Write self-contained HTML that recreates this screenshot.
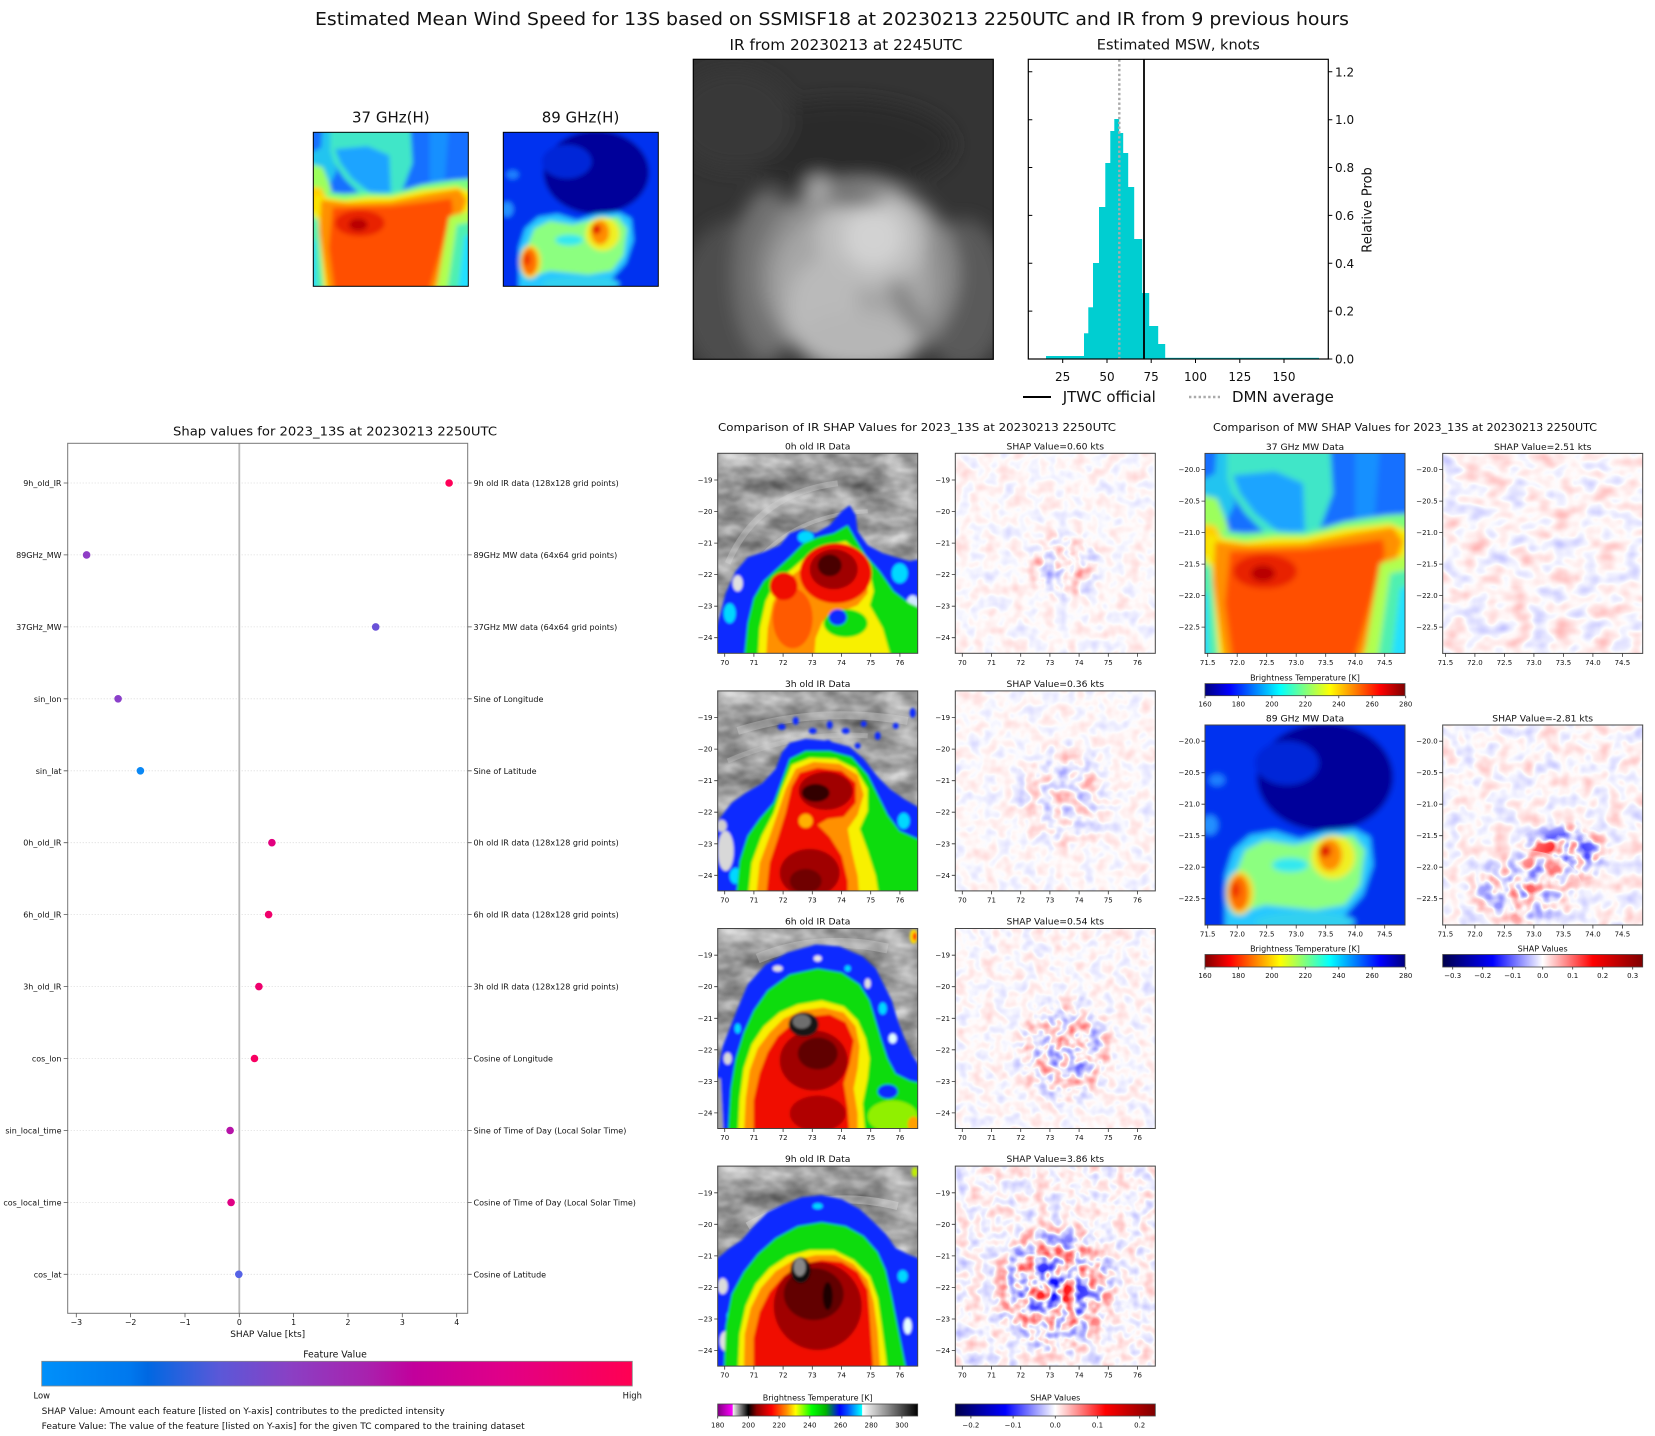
<!DOCTYPE html>
<html><head><meta charset="utf-8"><style>
html,body{margin:0;padding:0;background:#fff}
svg{display:block}
text{font-family:"DejaVu Sans","Liberation Sans",sans-serif;fill:#111}
</style></head><body>
<svg width="1655" height="1436" viewBox="0 0 1655 1436" xmlns="http://www.w3.org/2000/svg" xmlns:xlink="http://www.w3.org/1999/xlink">
<defs>
<filter id="b15" x="-10%" y="-10%" width="120%" height="120%"><feGaussianBlur stdDeviation="1.4"/></filter>
<filter id="b25" x="-10%" y="-10%" width="120%" height="120%"><feGaussianBlur stdDeviation="3"/></filter>
<filter id="b5" x="-10%" y="-10%" width="120%" height="120%"><feGaussianBlur stdDeviation="9"/></filter>
<filter id="gtex" filterUnits="userSpaceOnUse" x="-10" y="-10" width="220" height="220" color-interpolation-filters="sRGB">
<feTurbulence type="fractalNoise" baseFrequency="0.03 0.05" numOctaves="3" seed="5"/>
<feColorMatrix type="matrix" values="0.65 0 0 0 0.28 0.65 0 0 0 0.28 0.65 0 0 0 0.28 0 0 0 0 1"/>
</filter>
<!-- shap noise filters: weak / strong -->
<filter id="nwA" filterUnits="userSpaceOnUse" x="0" y="0" width="200" height="200" color-interpolation-filters="sRGB"><feTurbulence type="fractalNoise" baseFrequency="0.07" numOctaves="2" seed="3"/><feColorMatrix type="matrix" values="1 0 0 0 0 1 0 0 0 0 0 0 0 0 0 0 0 0 0 1"/><feComponentTransfer><feFuncR type="linear" slope="0.38" intercept="-0.17"/><feFuncG type="linear" slope="-0.38" intercept="0.19"/></feComponentTransfer><feColorMatrix type="matrix" values="0 -1 0 0 1 -1 -1 0 0 1 -1 0 0 0 1 0 0 0 0 1"/></filter>
<filter id="nsA" filterUnits="userSpaceOnUse" x="0" y="0" width="200" height="200" color-interpolation-filters="sRGB"><feTurbulence type="fractalNoise" baseFrequency="0.07" numOctaves="2" seed="3"/><feColorMatrix type="matrix" values="1 0 0 0 0 1 0 0 0 0 0 0 0 0 0 0 0 0 0 1"/><feComponentTransfer><feFuncR type="linear" slope="3" intercept="-1.5"/><feFuncG type="linear" slope="-3" intercept="1.5"/></feComponentTransfer><feColorMatrix type="matrix" values="0 -1 0 0 1 -1 -1 0 0 1 -1 0 0 0 1 0 0 0 0 1"/></filter>
<filter id="nwB" filterUnits="userSpaceOnUse" x="0" y="0" width="200" height="200" color-interpolation-filters="sRGB"><feTurbulence type="fractalNoise" baseFrequency="0.07" numOctaves="2" seed="8"/><feColorMatrix type="matrix" values="1 0 0 0 0 1 0 0 0 0 0 0 0 0 0 0 0 0 0 1"/><feComponentTransfer><feFuncR type="linear" slope="0.38" intercept="-0.17"/><feFuncG type="linear" slope="-0.38" intercept="0.19"/></feComponentTransfer><feColorMatrix type="matrix" values="0 -1 0 0 1 -1 -1 0 0 1 -1 0 0 0 1 0 0 0 0 1"/></filter>
<filter id="nsB" filterUnits="userSpaceOnUse" x="0" y="0" width="200" height="200" color-interpolation-filters="sRGB"><feTurbulence type="fractalNoise" baseFrequency="0.07" numOctaves="2" seed="8"/><feColorMatrix type="matrix" values="1 0 0 0 0 1 0 0 0 0 0 0 0 0 0 0 0 0 0 1"/><feComponentTransfer><feFuncR type="linear" slope="3" intercept="-1.5"/><feFuncG type="linear" slope="-3" intercept="1.5"/></feComponentTransfer><feColorMatrix type="matrix" values="0 -1 0 0 1 -1 -1 0 0 1 -1 0 0 0 1 0 0 0 0 1"/></filter>
<filter id="nwC" filterUnits="userSpaceOnUse" x="0" y="0" width="200" height="200" color-interpolation-filters="sRGB"><feTurbulence type="fractalNoise" baseFrequency="0.075" numOctaves="2" seed="21"/><feColorMatrix type="matrix" values="1 0 0 0 0 1 0 0 0 0 0 0 0 0 0 0 0 0 0 1"/><feComponentTransfer><feFuncR type="linear" slope="0.42" intercept="-0.19"/><feFuncG type="linear" slope="-0.42" intercept="0.21"/></feComponentTransfer><feColorMatrix type="matrix" values="0 -1 0 0 1 -1 -1 0 0 1 -1 0 0 0 1 0 0 0 0 1"/></filter>
<filter id="nsC" filterUnits="userSpaceOnUse" x="0" y="0" width="200" height="200" color-interpolation-filters="sRGB"><feTurbulence type="fractalNoise" baseFrequency="0.075" numOctaves="2" seed="21"/><feColorMatrix type="matrix" values="1 0 0 0 0 1 0 0 0 0 0 0 0 0 0 0 0 0 0 1"/><feComponentTransfer><feFuncR type="linear" slope="3.2" intercept="-1.6"/><feFuncG type="linear" slope="-3.2" intercept="1.6"/></feComponentTransfer><feColorMatrix type="matrix" values="0 -1 0 0 1 -1 -1 0 0 1 -1 0 0 0 1 0 0 0 0 1"/></filter>
<filter id="nwD" filterUnits="userSpaceOnUse" x="0" y="0" width="200" height="200" color-interpolation-filters="sRGB"><feTurbulence type="fractalNoise" baseFrequency="0.075" numOctaves="2" seed="33"/><feColorMatrix type="matrix" values="1 0 0 0 0 1 0 0 0 0 0 0 0 0 0 0 0 0 0 1"/><feComponentTransfer><feFuncR type="linear" slope="0.7" intercept="-0.33"/><feFuncG type="linear" slope="-0.7" intercept="0.35"/></feComponentTransfer><feColorMatrix type="matrix" values="0 -1 0 0 1 -1 -1 0 0 1 -1 0 0 0 1 0 0 0 0 1"/></filter>
<filter id="nsD" filterUnits="userSpaceOnUse" x="0" y="0" width="200" height="200" color-interpolation-filters="sRGB"><feTurbulence type="fractalNoise" baseFrequency="0.075" numOctaves="2" seed="33"/><feColorMatrix type="matrix" values="1 0 0 0 0 1 0 0 0 0 0 0 0 0 0 0 0 0 0 1"/><feComponentTransfer><feFuncR type="linear" slope="4" intercept="-2"/><feFuncG type="linear" slope="-4" intercept="2"/></feComponentTransfer><feColorMatrix type="matrix" values="0 -1 0 0 1 -1 -1 0 0 1 -1 0 0 0 1 0 0 0 0 1"/></filter>
<filter id="nwE" filterUnits="userSpaceOnUse" x="0" y="0" width="200" height="200" color-interpolation-filters="sRGB"><feTurbulence type="fractalNoise" baseFrequency="0.045 0.06" numOctaves="2" seed="41"/><feColorMatrix type="matrix" values="1 0 0 0 0 1 0 0 0 0 0 0 0 0 0 0 0 0 0 1"/><feComponentTransfer><feFuncR type="linear" slope="0.65" intercept="-0.3"/><feFuncG type="linear" slope="-0.65" intercept="0.32"/></feComponentTransfer><feColorMatrix type="matrix" values="0 -1 0 0 1 -1 -1 0 0 1 -1 0 0 0 1 0 0 0 0 1"/></filter>
<filter id="nwF" filterUnits="userSpaceOnUse" x="0" y="0" width="200" height="200" color-interpolation-filters="sRGB"><feTurbulence type="fractalNoise" baseFrequency="0.06" numOctaves="2" seed="52"/><feColorMatrix type="matrix" values="1 0 0 0 0 1 0 0 0 0 0 0 0 0 0 0 0 0 0 1"/><feComponentTransfer><feFuncR type="linear" slope="0.6" intercept="-0.28"/><feFuncG type="linear" slope="-0.6" intercept="0.3"/></feComponentTransfer><feColorMatrix type="matrix" values="0 -1 0 0 1 -1 -1 0 0 1 -1 0 0 0 1 0 0 0 0 1"/></filter>
<filter id="nsF" filterUnits="userSpaceOnUse" x="0" y="0" width="200" height="200" color-interpolation-filters="sRGB"><feTurbulence type="fractalNoise" baseFrequency="0.06" numOctaves="2" seed="52"/><feColorMatrix type="matrix" values="1 0 0 0 0 1 0 0 0 0 0 0 0 0 0 0 0 0 0 1"/><feComponentTransfer><feFuncR type="linear" slope="5" intercept="-2.5"/><feFuncG type="linear" slope="-5" intercept="2.5"/></feComponentTransfer><feColorMatrix type="matrix" values="0 -1 0 0 1 -1 -1 0 0 1 -1 0 0 0 1 0 0 0 0 1"/></filter>

<radialGradient id="rgc" cx="0.5" cy="0.5" r="0.5"><stop offset="0" stop-color="#fff"/><stop offset="0.6" stop-color="#888"/><stop offset="1" stop-color="#000"/></radialGradient>
<mask id="m0" maskUnits="userSpaceOnUse" x="0" y="0" width="200" height="200"><ellipse cx="108" cy="112" rx="42" ry="38" fill="url(#rgc)" opacity="0.55"/></mask>
<mask id="m3" maskUnits="userSpaceOnUse" x="0" y="0" width="200" height="200"><ellipse cx="110" cy="105" rx="58" ry="60" fill="url(#rgc)" opacity="0.35"/></mask>
<mask id="m6" maskUnits="userSpaceOnUse" x="0" y="0" width="200" height="200"><ellipse cx="110" cy="122" rx="55" ry="58" fill="url(#rgc)" opacity="0.75"/></mask>
<mask id="m9" maskUnits="userSpaceOnUse" x="0" y="0" width="200" height="200"><ellipse cx="100" cy="122" rx="68" ry="70" fill="url(#rgc)"/></mask>
<mask id="m89" maskUnits="userSpaceOnUse" x="0" y="0" width="200" height="200"><ellipse cx="122" cy="128" rx="50" ry="32" fill="url(#rgc)"/><ellipse cx="80" cy="165" rx="60" ry="40" fill="url(#rgc)" opacity="0.6"/></mask>

<linearGradient id="gJet" x1="0" y1="0" x2="1" y2="0"><stop offset="0" stop-color="#00007f"/><stop offset="0.125" stop-color="#0000ff"/><stop offset="0.375" stop-color="#00ffff"/><stop offset="0.5" stop-color="#7fff7f"/><stop offset="0.625" stop-color="#ffff00"/><stop offset="0.875" stop-color="#ff0000"/><stop offset="1" stop-color="#7f0000"/></linearGradient>
<linearGradient id="gJetR" x1="1" y1="0" x2="0" y2="0"><stop offset="0" stop-color="#00007f"/><stop offset="0.125" stop-color="#0000ff"/><stop offset="0.375" stop-color="#00ffff"/><stop offset="0.5" stop-color="#7fff7f"/><stop offset="0.625" stop-color="#ffff00"/><stop offset="0.875" stop-color="#ff0000"/><stop offset="1" stop-color="#7f0000"/></linearGradient>
<linearGradient id="gSeis" x1="0" y1="0" x2="1" y2="0"><stop offset="0" stop-color="#00004c"/><stop offset="0.25" stop-color="#0000ff"/><stop offset="0.5" stop-color="#ffffff"/><stop offset="0.75" stop-color="#ff0000"/><stop offset="1" stop-color="#7f0000"/></linearGradient>
<linearGradient id="gIR" x1="0" y1="0" x2="1" y2="0"><stop offset="0" stop-color="#800080"/><stop offset="0.074" stop-color="#ff00ff"/><stop offset="0.076" stop-color="#f2f2f2"/><stop offset="0.153" stop-color="#000000"/><stop offset="0.195" stop-color="#8b0000"/><stop offset="0.27" stop-color="#ff0000"/><stop offset="0.345" stop-color="#ff9000"/><stop offset="0.39" stop-color="#ffff00"/><stop offset="0.47" stop-color="#00ff00"/><stop offset="0.54" stop-color="#00b400"/><stop offset="0.61" stop-color="#0000ff"/><stop offset="0.65" stop-color="#0050ff"/><stop offset="0.72" stop-color="#00ffff"/><stop offset="0.724" stop-color="#ffffff"/><stop offset="1" stop-color="#000000"/></linearGradient>
<linearGradient id="gFeat" x1="0" y1="0" x2="1" y2="0"><stop offset="0" stop-color="#0090fa"/><stop offset="0.15" stop-color="#0078ee"/><stop offset="0.18" stop-color="#0068e2"/><stop offset="0.3" stop-color="#5a58d8"/><stop offset="0.42" stop-color="#8a40c4"/><stop offset="0.55" stop-color="#a822ae"/><stop offset="0.63" stop-color="#c2009c"/><stop offset="0.78" stop-color="#e00088"/><stop offset="1" stop-color="#ff0052"/></linearGradient>

<path id="irt" d="M-3.5 26.7H0M-3.5 58.2H0M-3.5 89.8H0M-3.5 121.3H0M-3.5 152.9H0M-3.5 184.4H0M7 200V203.5M36.2 200V203.5M65.4 200V203.5M94.6 200V203.5M123.8 200V203.5M153 200V203.5M182.2 200V203.5" stroke="#333" stroke-width="0.8" fill="none"/>
<path id="mwt" d="M-3.5 16.2H0M-3.5 47.7H0M-3.5 79.2H0M-3.5 110.7H0M-3.5 142.2H0M-3.5 173.7H0M2.7 200V203.5M32.2 200V203.5M61.7 200V203.5M91.2 200V203.5M120.7 200V203.5M150.2 200V203.5M179.7 200V203.5" stroke="#333" stroke-width="0.8" fill="none"/>

<g id="mw37" filter="url(#b25)">
<rect x="-10" y="-10" width="220" height="220" fill="#1870ff"/>
<polygon points="20,-10 125,-10 128,40 115,75 100,82 62,82 40,60 20,30" fill="#3fe6c8"/>
<polygon points="28,22 70,18 98,30 100,78 75,80 50,60 35,40" fill="#1ea4ff"/>
<polygon points="-10,-10 22,-10 22,25 30,50 20,70 5,60 -10,40" fill="#22c4f0"/>
<polygon points="-10,-10 12,-10 10,20 -10,30" fill="#1870ff"/>
<polygon points="150,-10 175,-10 170,60 160,78 150,70" fill="#1490ff"/>
<polygon points="-10,40 12,45 22,70 28,95 -10,100" fill="#9cff5c"/>
<polygon points="-10,75 40,80 70,78 100,80 140,68 180,62 210,60 210,210 -10,210" fill="#7cff7c"/>
<polygon points="-10,70 10,72 22,92 -10,110" fill="#ffd000"/>
<polygon points="2,82 40,88 70,84 100,84 140,75 185,70 205,78 200,110 165,210 12,210 0,130" fill="#f8e800"/>
<polygon points="10,88 45,92 100,90 150,80 188,74 198,88 190,110 155,210 20,210 8,130" fill="#ff9000"/>
<polygon points="25,98 60,97 100,96 150,90 178,86 180,100 148,210 28,210 20,150" fill="#ff5000"/>
<ellipse cx="60" cy="118" rx="32" ry="17" fill="#e82000"/>
<ellipse cx="58" cy="120" rx="12" ry="8" fill="#b80000"/>
<polygon points="-10,110 6,112 14,210 -10,210" fill="#50f0b0"/>
<polygon points="-10,140 2,140 4,210 -10,210" fill="#20d8ff"/>
<polygon points="175,110 210,100 210,210 158,210" fill="#b0ff50"/>
<polygon points="185,120 210,115 210,210 172,210" fill="#50f0b0"/>
<polygon points="195,135 210,130 210,210 186,210" fill="#20e0ff"/>
</g>

<g id="mw89" filter="url(#b25)">
<rect x="-10" y="-10" width="220" height="220" fill="#0030f0"/>
<ellipse cx="120" cy="52" rx="68" ry="54" fill="#00009a"/>
<ellipse cx="82" cy="38" rx="32" ry="22" fill="#0026d8"/>
<ellipse cx="5" cy="100" rx="8" ry="10" fill="#2090ff"/>
<ellipse cx="12" cy="55" rx="8" ry="6" fill="#1c80ff"/>
<polygon points="20,210 20,150 28,125 45,110 70,106 95,114 120,106 150,104 165,112 168,140 158,170 140,190 120,210" fill="#28c8ff"/>
<polygon points="28,190 30,150 40,125 60,115 90,120 120,112 148,110 160,125 155,160 140,180 110,185 60,180" fill="#8cff80"/>
<ellipse cx="85" cy="140" rx="18" ry="7" fill="#30e8f0"/>
<ellipse cx="128" cy="132" rx="22" ry="22" fill="#f0f020"/>
<ellipse cx="35" cy="168" rx="14" ry="22" fill="#f0e020"/>
<ellipse cx="125" cy="130" rx="12" ry="16" fill="#ff8c00"/>
<ellipse cx="34" cy="168" rx="10" ry="18" fill="#ff7000"/>
<circle cx="120" cy="126" r="6" fill="#e00000"/>
<ellipse cx="30" cy="165" rx="5" ry="8" fill="#f03000"/>
<ellipse cx="100" cy="197" rx="50" ry="10" fill="#30d0f0"/>
</g>
</defs>

<rect width="1655" height="1436" fill="#fff"/>

<!-- ===== TOP ===== -->
<text x="832" y="25" font-size="18" text-anchor="middle" textLength="1034" lengthAdjust="spacingAndGlyphs">Estimated Mean Wind Speed for 13S based on SSMISF18 at 20230213 2250UTC and IR from 9 previous hours</text>

<text x="390.8" y="122.5" font-size="15" text-anchor="middle">37 GHz(H)</text>
<text x="580.5" y="122.5" font-size="15" text-anchor="middle">89 GHz(H)</text>
<svg x="313.3" y="132.3" width="155" height="154" viewBox="0 0 200 200" preserveAspectRatio="none"><use href="#mw37" xlink:href="#mw37"/></svg>
<rect x="313.3" y="132.3" width="155" height="154" fill="none" stroke="#000" stroke-width="1"/>
<svg x="503.3" y="132.3" width="155" height="154" viewBox="0 0 200 200" preserveAspectRatio="none"><use href="#mw89" xlink:href="#mw89"/></svg>
<rect x="503.3" y="132.3" width="155" height="154" fill="none" stroke="#000" stroke-width="1"/>

<text x="846" y="50" font-size="15" text-anchor="middle" textLength="233" lengthAdjust="spacingAndGlyphs">IR from 20230213 at 2245UTC</text>
<svg x="693.3" y="59.3" width="300" height="300" viewBox="0 0 300 300">
<rect x="-10" y="-10" width="320" height="320" fill="#343434"/>
<g filter="url(#b5)">
<ellipse cx="150" cy="85" rx="110" ry="45" fill="#2b2b2b"/>
<ellipse cx="40" cy="60" rx="60" ry="50" fill="#383838"/>
<ellipse cx="45" cy="240" rx="60" ry="80" fill="#4e4e4e"/>
<ellipse cx="270" cy="235" rx="45" ry="75" fill="#5a5a5a"/>
<ellipse cx="75" cy="215" rx="35" ry="85" fill="#707070"/>
<ellipse cx="165" cy="215" rx="100" ry="95" fill="#8c8c8c"/>
<ellipse cx="160" cy="225" rx="80" ry="80" fill="#a6a6a6"/>
<ellipse cx="178" cy="180" rx="55" ry="48" fill="#bebebe"/>
<ellipse cx="130" cy="250" rx="35" ry="50" fill="#bababa"/>
<ellipse cx="165" cy="282" rx="60" ry="30" fill="#b6b6b6"/>
<ellipse cx="180" cy="178" rx="30" ry="30" fill="#d2d2d2"/>
<ellipse cx="125" cy="130" rx="12" ry="13" fill="#b0b0b0"/>
<ellipse cx="160" cy="140" rx="32" ry="6" fill="#4e4e4e"/>
<ellipse cx="215" cy="250" rx="8" ry="35" fill="#7c7c7c" transform="rotate(-30 215 250)"/>
</g>
</svg>
<rect x="693.3" y="59.3" width="300" height="300" fill="none" stroke="#000" stroke-width="1.2"/>

<!-- histogram -->
<text x="1178.3" y="49.5" font-size="14" text-anchor="middle" textLength="163" lengthAdjust="spacingAndGlyphs">Estimated MSW, knots</text>
<g fill="#00ced1">
<rect x="1046" y="356" width="38" height="3"/>
<rect x="1084" y="333.3" width="4.5" height="25.7"/>
<rect x="1088.3" y="307.3" width="4.9" height="51.7"/>
<rect x="1093" y="263" width="6.2" height="96"/>
<rect x="1099" y="207" width="6.5" height="152"/>
<rect x="1105.3" y="163" width="5.2" height="196"/>
<rect x="1110.3" y="131" width="4.2" height="228"/>
<rect x="1114.3" y="119" width="4.9" height="240"/>
<rect x="1119" y="133" width="4.2" height="226"/>
<rect x="1123" y="153" width="5.2" height="206"/>
<rect x="1128" y="187" width="6.2" height="172"/>
<rect x="1134" y="239" width="8.2" height="120"/>
<rect x="1142" y="293" width="7.2" height="66"/>
<rect x="1149" y="326" width="9.2" height="33"/>
<rect x="1158" y="344" width="7.2" height="15"/>
<rect x="1165" y="357.8" width="154" height="1.2"/>
</g>
<line x1="1119.3" y1="59.3" x2="1119.3" y2="359" stroke="#aaa" stroke-width="2.4" stroke-dasharray="2.4 2.4"/>
<line x1="1144" y1="59.3" x2="1144" y2="359" stroke="#000" stroke-width="1.8"/>
<rect x="1028.3" y="59.3" width="300" height="299.7" fill="none" stroke="#000" stroke-width="1.2"/>
<path d="M1062.7 359v4M1107 359v4M1151.2 359v4M1195.5 359v4M1239.8 359v4M1284 359v4M1328.3 359h4M1328.3 311.1h4M1328.3 263.3h4M1328.3 215.4h4M1328.3 167.5h4M1328.3 119.7h4M1328.3 71.8h4M1028.3 311.1h4M1028.3 263.3h4M1028.3 215.4h4M1028.3 167.5h4M1028.3 119.7h4M1028.3 71.8h4" stroke="#000" stroke-width="1"/>
<g font-size="12" text-anchor="middle">
<text x="1062.7" y="381">25</text><text x="1107" y="381">50</text><text x="1151.2" y="381">75</text><text x="1195.5" y="381">100</text><text x="1239.8" y="381">125</text><text x="1284" y="381">150</text>
</g>
<g font-size="12">
<text x="1335" y="363.5">0.0</text><text x="1335" y="315.6">0.2</text><text x="1335" y="267.8">0.4</text><text x="1335" y="219.9">0.6</text><text x="1335" y="172">0.8</text><text x="1335" y="124.2">1.0</text><text x="1335" y="76.3">1.2</text>
</g>
<text transform="translate(1371.5 210) rotate(-90)" font-size="13" text-anchor="middle">Relative Prob</text>
<line x1="1023" y1="397" x2="1051" y2="397" stroke="#000" stroke-width="2"/>
<text x="1062.7" y="402" font-size="15">JTWC official</text>
<line x1="1189" y1="397" x2="1220" y2="397" stroke="#aaa" stroke-width="2.4" stroke-dasharray="2.4 2.4"/>
<text x="1232" y="402" font-size="15">DMN average</text>

<!-- ===== LEFT SHAP SUMMARY ===== -->
<text x="335" y="435.5" font-size="12.5" text-anchor="middle" textLength="324" lengthAdjust="spacingAndGlyphs">Shap values for 2023_13S at 20230213 2250UTC</text>
<g stroke="#d4d4d4" stroke-width="0.8" stroke-dasharray="1 2">
<line x1="67.7" y1="483" x2="467.7" y2="483"/><line x1="67.7" y1="554.9" x2="467.7" y2="554.9"/><line x1="67.7" y1="626.9" x2="467.7" y2="626.9"/><line x1="67.7" y1="698.8" x2="467.7" y2="698.8"/><line x1="67.7" y1="770.8" x2="467.7" y2="770.8"/><line x1="67.7" y1="842.7" x2="467.7" y2="842.7"/><line x1="67.7" y1="914.6" x2="467.7" y2="914.6"/><line x1="67.7" y1="986.6" x2="467.7" y2="986.6"/><line x1="67.7" y1="1058.5" x2="467.7" y2="1058.5"/><line x1="67.7" y1="1130.5" x2="467.7" y2="1130.5"/><line x1="67.7" y1="1202.4" x2="467.7" y2="1202.4"/><line x1="67.7" y1="1274.3" x2="467.7" y2="1274.3"/>
</g>
<line x1="239.3" y1="443.3" x2="239.3" y2="1313.3" stroke="#b8b8b8" stroke-width="1.8"/>
<rect x="67.7" y="443.3" width="400" height="870" fill="none" stroke="#777" stroke-width="1"/>
<path d="M63.7 483h4M63.7 554.9h4M63.7 626.9h4M63.7 698.8h4M63.7 770.8h4M63.7 842.7h4M63.7 914.6h4M63.7 986.6h4M63.7 1058.5h4M63.7 1130.5h4M63.7 1202.4h4M63.7 1274.3h4M467.7 483h4M467.7 554.9h4M467.7 626.9h4M467.7 698.8h4M467.7 770.8h4M467.7 842.7h4M467.7 914.6h4M467.7 986.6h4M467.7 1058.5h4M467.7 1130.5h4M467.7 1202.4h4M467.7 1274.3h4M76.3 1313.3v4M130.6 1313.3v4M185 1313.3v4M239.3 1313.3v4M293.6 1313.3v4M348 1313.3v4M402.3 1313.3v4M456.7 1313.3v4" stroke="#555" stroke-width="0.8"/>
<g font-size="8" text-anchor="end" fill="#222">
<text x="61.5" y="486">9h_old_IR</text><text x="61.5" y="557.9">89GHz_MW</text><text x="61.5" y="629.9">37GHz_MW</text><text x="61.5" y="701.8">sin_lon</text><text x="61.5" y="773.8">sin_lat</text><text x="61.5" y="845.7">0h_old_IR</text><text x="61.5" y="917.6">6h_old_IR</text><text x="61.5" y="989.6">3h_old_IR</text><text x="61.5" y="1061.5">cos_lon</text><text x="61.5" y="1133.5">sin_local_time</text><text x="61.5" y="1205.4">cos_local_time</text><text x="61.5" y="1277.3">cos_lat</text>
</g>
<g font-size="8" fill="#222">
<text x="473.5" y="486">9h old IR data (128x128 grid points)</text><text x="473.5" y="557.9">89GHz MW data (64x64 grid points)</text><text x="473.5" y="629.9">37GHz MW data (64x64 grid points)</text><text x="473.5" y="701.8">Sine of Longitude</text><text x="473.5" y="773.8">Sine of Latitude</text><text x="473.5" y="845.7">0h old IR data (128x128 grid points)</text><text x="473.5" y="917.6">6h old IR data (128x128 grid points)</text><text x="473.5" y="989.6">3h old IR data (128x128 grid points)</text><text x="473.5" y="1061.5">Cosine of Longitude</text><text x="473.5" y="1133.5">Sine of Time of Day (Local Solar Time)</text><text x="473.5" y="1205.4">Cosine of Time of Day (Local Solar Time)</text><text x="473.5" y="1277.3">Cosine of Latitude</text>
</g>
<circle cx="449.1" cy="483" r="3.8" fill="#ff0058"/>
<circle cx="86.6" cy="554.9" r="3.8" fill="#8f3dc6"/>
<circle cx="375.7" cy="626.9" r="3.8" fill="#6a52d8"/>
<circle cx="118.1" cy="698.8" r="3.8" fill="#8a3fca"/>
<circle cx="140.4" cy="770.8" r="3.8" fill="#0a88f5"/>
<circle cx="271.9" cy="842.7" r="3.8" fill="#e2007f"/>
<circle cx="268.6" cy="914.6" r="3.8" fill="#f0006b"/>
<circle cx="258.9" cy="986.6" r="3.8" fill="#ee006d"/>
<circle cx="254.5" cy="1058.5" r="3.8" fill="#f80062"/>
<circle cx="230.1" cy="1130.5" r="3.8" fill="#b612a8"/>
<circle cx="231.1" cy="1202.4" r="3.8" fill="#e00084"/>
<circle cx="238.8" cy="1274.3" r="3.8" fill="#5562e6"/>
<g font-size="7.8" text-anchor="middle" fill="#222">
<text x="76.3" y="1325">−3</text><text x="130.6" y="1325">−2</text><text x="185" y="1325">−1</text><text x="239.3" y="1325">0</text><text x="293.6" y="1325">1</text><text x="348" y="1325">2</text><text x="402.3" y="1325">3</text><text x="456.7" y="1325">4</text>
</g>
<text x="267.7" y="1337" font-size="9" text-anchor="middle">SHAP Value [kts]</text>
<text x="335" y="1357.5" font-size="9.3" text-anchor="middle">Feature Value</text>
<rect x="41.7" y="1361.3" width="590.6" height="24.7" fill="url(#gFeat)" stroke="#888" stroke-width="0.8"/>
<text x="41.7" y="1398.5" font-size="8.4" text-anchor="middle">Low</text>
<text x="632.3" y="1398.5" font-size="8.4" text-anchor="middle">High</text>
<text x="41.7" y="1414" font-size="8.5" textLength="403" lengthAdjust="spacingAndGlyphs">SHAP Value: Amount each feature [listed on Y-axis] contributes to the predicted intensity</text>
<text x="41.7" y="1429" font-size="8.5" textLength="483" lengthAdjust="spacingAndGlyphs">Feature Value: The value of the feature [listed on Y-axis] for the given TC compared to the training dataset</text>

<!-- ===== IR COMPARISON ===== -->
<text x="917" y="431" font-size="11" text-anchor="middle" textLength="398" lengthAdjust="spacingAndGlyphs">Comparison of IR SHAP Values for 2023_13S at 20230213 2250UTC</text>

<!-- 0h -->
<text x="817.7" y="449.3" font-size="9.2" text-anchor="middle">0h old IR Data</text>
<text x="1055.3" y="449.3" font-size="9.2" text-anchor="middle">SHAP Value=0.60 kts</text>
<svg x="717.7" y="453.3" width="200" height="200" viewBox="0 0 200 200">
<rect x="-10" y="-10" width="220" height="220" filter="url(#gtex)"/>
<path d="M10,110 Q40,40 120,30" stroke="#d6d6d6" stroke-width="6" fill="none" opacity="0.35"/>
<path d="M30,120 Q70,62 150,58" stroke="#dcdcdc" stroke-width="4" fill="none" opacity="0.35"/>
<g filter="url(#b15)">
<polygon points="-10,190 0,170 8,140 18,118 30,104 48,98 62,92 72,80 84,76 98,80 112,72 124,58 132,52 138,62 140,78 150,92 165,100 178,104 192,108 210,104 210,210 -10,210" fill="#0a2cff"/>
<ellipse cx="12" cy="160" rx="6" ry="10" fill="#00d8ff"/><ellipse cx="20" cy="130" rx="5" ry="8" fill="#e0e0e0"/><ellipse cx="182" cy="120" rx="8" ry="10" fill="#00d8ff"/><ellipse cx="195" cy="150" rx="6" ry="8" fill="#d0e8ff"/><ellipse cx="88" cy="84" rx="8" ry="6" fill="#00d8ff"/>
<polygon points="26,210 30,170 36,145 46,128 60,115 72,104 86,90 100,84 116,80 130,72 138,86 148,102 162,118 176,138 192,150 210,158 210,210" fill="#10dc10"/>
<polygon points="40,210 42,175 48,148 58,128 74,116 90,102 108,92 128,88 142,100 152,118 156,138 152,152 165,175 175,210" fill="#f8f000"/>
<polygon points="48,210 50,175 55,150 64,130 80,118 96,104 110,95 130,92 144,104 150,122 150,140 140,152 120,160 105,168 98,185 96,210" fill="#ff9000"/>
<ellipse cx="128" cy="170" rx="22" ry="14" fill="#10dc10"/><ellipse cx="120" cy="164" rx="9" ry="8" fill="#0a2cff"/>
<ellipse cx="75" cy="165" rx="20" ry="30" fill="#ff5a00"/>
<ellipse cx="118" cy="120" rx="36" ry="30" fill="#f01000"/>
<ellipse cx="66" cy="133" rx="14" ry="14" fill="#f01000"/>
<ellipse cx="116" cy="116" rx="24" ry="20" fill="#a00000"/>
<ellipse cx="112" cy="112" rx="12" ry="11" fill="#4a0000"/>
</g>
</svg>
<svg x="955.3" y="453.3" width="200" height="200" viewBox="0 0 200 200">
<rect width="200" height="200" filter="url(#nwA)"/>
<rect width="200" height="200" filter="url(#nsA)" mask="url(#m0)"/>
</svg>

<!-- 3h -->
<text x="817.7" y="686.9" font-size="9.2" text-anchor="middle">3h old IR Data</text>
<text x="1055.3" y="686.9" font-size="9.2" text-anchor="middle">SHAP Value=0.36 kts</text>
<svg x="717.7" y="690.9" width="200" height="200" viewBox="0 0 200 200">
<rect x="-10" y="-10" width="220" height="220" filter="url(#gtex)"/>
<path d="M20,40 Q100,15 190,30" stroke="#dcdcdc" stroke-width="8" fill="none" opacity="0.35"/>
<path d="M10,70 Q80,40 150,45" stroke="#cccccc" stroke-width="5" fill="none" opacity="0.35"/>
<g filter="url(#b15)">
<g fill="#0a2cff"><ellipse cx="64" cy="36" rx="4" ry="3"/><ellipse cx="78" cy="30" rx="3" ry="4"/><ellipse cx="95" cy="40" rx="4" ry="3"/><ellipse cx="112" cy="34" rx="3" ry="4"/><ellipse cx="128" cy="40" rx="4" ry="3"/><ellipse cx="146" cy="33" rx="3" ry="3"/><ellipse cx="160" cy="45" rx="3" ry="4"/><ellipse cx="178" cy="35" rx="3" ry="3"/><ellipse cx="195" cy="22" rx="3" ry="5"/><ellipse cx="110" cy="52" rx="4" ry="3"/><ellipse cx="140" cy="55" rx="3" ry="3"/></g>
<polygon points="-10,140 0,130 14,112 28,102 45,92 58,78 64,62 72,52 88,48 110,50 132,56 146,68 160,86 172,98 186,108 200,116 210,118 210,210 -10,210" fill="#0a2cff"/>
<ellipse cx="8" cy="160" rx="8" ry="20" fill="#d8d8d8"/><ellipse cx="18" cy="185" rx="6" ry="8" fill="#00d8ff"/><ellipse cx="4" cy="135" rx="5" ry="6" fill="#cfcfcf"/><ellipse cx="186" cy="130" rx="6" ry="8" fill="#00d8ff"/><ellipse cx="195" cy="170" rx="5" ry="10" fill="#c8ffff"/>
<polygon points="18,210 22,170 30,145 42,128 56,112 64,90 72,68 88,60 112,60 134,66 150,84 160,104 170,124 182,140 200,148 210,150 210,210" fill="#10dc10"/>
<polygon points="30,210 34,172 44,145 56,122 64,98 74,74 92,67 118,68 138,78 150,98 150,120 142,138 150,160 158,185 162,210" fill="#f8f000"/>
<polygon points="38,210 42,172 52,145 60,122 68,98 78,78 96,71 122,73 140,84 146,104 140,124 130,138 134,160 140,185 142,210" fill="#ff9000"/>
<polygon points="48,210 52,172 60,148 68,122 74,96 82,82 100,77 124,80 138,92 138,112 126,126 110,128 100,134 112,146 124,165 130,190 130,210" fill="#f01000"/>
<ellipse cx="88" cy="130" rx="7" ry="7" fill="#ffb000"/>
<ellipse cx="108" cy="100" rx="27" ry="19" fill="#a00000"/>
<ellipse cx="98" cy="102" rx="14" ry="9" fill="#300000"/>
<ellipse cx="92" cy="182" rx="30" ry="24" fill="#a00000"/>
<ellipse cx="88" cy="190" rx="16" ry="12" fill="#700000"/>
</g>
</svg>
<svg x="955.3" y="690.9" width="200" height="200" viewBox="0 0 200 200">
<rect width="200" height="200" filter="url(#nwB)"/>
<rect width="200" height="200" filter="url(#nsB)" mask="url(#m3)"/>
</svg>

<!-- 6h -->
<text x="817.7" y="924.5" font-size="9.2" text-anchor="middle">6h old IR Data</text>
<text x="1055.3" y="924.5" font-size="9.2" text-anchor="middle">SHAP Value=0.54 kts</text>
<svg x="717.7" y="928.5" width="200" height="200" viewBox="0 0 200 200">
<rect x="-10" y="-10" width="220" height="220" filter="url(#gtex)"/>
<path d="M40,30 Q100,5 170,20" stroke="#dedede" stroke-width="10" fill="none" opacity="0.35"/>
<g filter="url(#b15)">
<ellipse cx="196" cy="8" rx="4" ry="7" fill="#ffe000"/><ellipse cx="197" cy="8" rx="2" ry="4" fill="#ff2000"/>
<polygon points="-10,150 0,142 5,118 12,100 20,80 30,56 48,36 70,24 98,16 122,18 145,28 158,40 166,56 174,72 180,92 186,108 194,126 202,138 210,142 210,210 -10,210" fill="#0a2cff"/>
<polygon points="-10,150 3,150 6,210 -10,210" fill="#a0a0a0"/>
<ellipse cx="60" cy="40" rx="5" ry="3" fill="#e0e0e0"/><ellipse cx="100" cy="30" rx="4" ry="3" fill="#e8e8e8"/><ellipse cx="130" cy="40" rx="3" ry="3" fill="#00d8ff"/><ellipse cx="150" cy="55" rx="3" ry="5" fill="#e0e0e0"/><ellipse cx="165" cy="80" rx="4" ry="6" fill="#00d8ff"/><ellipse cx="175" cy="110" rx="4" ry="5" fill="#e0ffff"/><ellipse cx="20" cy="100" rx="3" ry="5" fill="#00d8ff"/><ellipse cx="10" cy="130" rx="4" ry="6" fill="#d8d8d8"/>
<polygon points="10,210 13,160 18,130 26,104 36,82 50,62 72,46 100,40 124,44 142,56 152,72 158,92 164,112 170,130 178,145 192,152 210,156 210,210" fill="#10dc10"/>
<ellipse cx="170" cy="163" rx="10" ry="7" fill="#0a2cff"/>
<ellipse cx="175" cy="188" rx="25" ry="16" fill="#90f000"/>
<polygon points="20,210 22,170 26,140 34,116 46,98 62,84 80,76 104,72 126,78 140,92 148,110 152,130 150,150 145,175 148,210" fill="#f8f000"/>
<polygon points="26,210 28,170 32,142 40,120 52,104 66,90 84,82 106,79 126,84 138,98 142,118 140,140 136,160 140,185 140,210" fill="#ff9000"/>
<polygon points="36,210 36,172 42,145 50,124 60,108 74,96 92,88 112,86 128,94 136,112 132,135 126,155 130,180 132,210" fill="#f01000"/>
<ellipse cx="196" cy="196" rx="6" ry="8" fill="#ffa000"/>
<ellipse cx="96" cy="132" rx="34" ry="30" fill="#a00000"/>
<ellipse cx="100" cy="185" rx="28" ry="18" fill="#b00000"/>
<ellipse cx="100" cy="125" rx="20" ry="16" fill="#600000"/>
<ellipse cx="86" cy="96" rx="15" ry="12" fill="#141414"/>
<ellipse cx="84" cy="93" rx="9" ry="7" fill="#6e6e6e"/>
</g>
</svg>
<svg x="955.3" y="928.5" width="200" height="200" viewBox="0 0 200 200">
<rect width="200" height="200" filter="url(#nwC)"/>
<rect width="200" height="200" filter="url(#nsC)" mask="url(#m6)"/>
</svg>

<!-- 9h -->
<text x="817.7" y="1162.1" font-size="9.2" text-anchor="middle">9h old IR Data</text>
<text x="1055.3" y="1162.1" font-size="9.2" text-anchor="middle">SHAP Value=3.86 kts</text>
<svg x="717.7" y="1166.1" width="200" height="200" viewBox="0 0 200 200">
<rect x="-10" y="-10" width="220" height="220" filter="url(#gtex)"/>
<path d="M30,60 Q100,20 180,40" stroke="#e4e4e4" stroke-width="8" fill="none" opacity="0.4"/>
<g filter="url(#b15)">
<ellipse cx="197" cy="6" rx="3" ry="5" fill="#c0f000"/>
<polygon points="-10,95 0,92 12,82 24,74 36,60 50,46 66,38 84,31 104,29 124,33 142,43 156,56 168,68 178,82 190,88 200,92 210,94 210,210 -10,210" fill="#0a2cff"/>
<ellipse cx="5" cy="120" rx="5" ry="8" fill="#dcdcdc"/><ellipse cx="15" cy="150" rx="6" ry="6" fill="#00d8ff"/><ellipse cx="8" cy="175" rx="6" ry="10" fill="#e0e0e0"/><ellipse cx="20" cy="195" rx="5" ry="5" fill="#00d8ff"/><ellipse cx="185" cy="110" rx="5" ry="6" fill="#00d8ff"/><ellipse cx="190" cy="160" rx="4" ry="8" fill="#e8ffff"/><ellipse cx="100" cy="40" rx="5" ry="3" fill="#00d8ff"/>
<polygon points="6,210 8,160 14,128 26,106 40,88 58,72 80,60 104,56 128,60 146,70 160,86 168,104 174,130 180,160 186,190 190,210" fill="#10dc10"/>
<polygon points="20,210 22,168 28,140 38,118 52,102 70,90 92,84 116,84 136,94 152,110 160,132 164,160 168,190 170,210" fill="#f8f000"/>
<polygon points="26,210 27,168 33,142 43,122 58,105 76,94 98,89 118,89 136,98 150,114 156,136 160,165 163,210" fill="#ff9000"/>
<polygon points="36,210 36,172 42,146 52,126 66,110 84,98 104,94 124,96 140,106 150,124 152,150 154,180 156,210" fill="#f01000"/>
<ellipse cx="100" cy="140" rx="44" ry="44" fill="#a00000"/>
<ellipse cx="96" cy="128" rx="30" ry="26" fill="#620000"/>
<ellipse cx="83" cy="104" rx="10" ry="13" fill="#111"/>
<ellipse cx="82" cy="101" rx="6" ry="9" fill="#888"/>
<ellipse cx="110" cy="130" rx="5" ry="14" fill="#1a0000"/>
</g>
</svg>
<svg x="955.3" y="1166.1" width="200" height="200" viewBox="0 0 200 200">
<rect width="200" height="200" filter="url(#nwD)"/>
<rect width="200" height="200" filter="url(#nsD)" mask="url(#m9)"/>
</svg>

<!-- IR panel borders & ticks -->
<g fill="none" stroke="#444" stroke-width="1">
<rect x="717.7" y="453.3" width="200" height="200"/><rect x="955.3" y="453.3" width="200" height="200"/>
<rect x="717.7" y="690.9" width="200" height="200"/><rect x="955.3" y="690.9" width="200" height="200"/>
<rect x="717.7" y="928.5" width="200" height="200"/><rect x="955.3" y="928.5" width="200" height="200"/>
<rect x="717.7" y="1166.1" width="200" height="200"/><rect x="955.3" y="1166.1" width="200" height="200"/>
</g>
<use href="#irt" xlink:href="#irt" x="717.7" y="453.3"/><use href="#irt" xlink:href="#irt" x="955.3" y="453.3"/>
<use href="#irt" xlink:href="#irt" x="717.7" y="690.9"/><use href="#irt" xlink:href="#irt" x="955.3" y="690.9"/>
<use href="#irt" xlink:href="#irt" x="717.7" y="928.5"/><use href="#irt" xlink:href="#irt" x="955.3" y="928.5"/>
<use href="#irt" xlink:href="#irt" x="717.7" y="1166.1"/><use href="#irt" xlink:href="#irt" x="955.3" y="1166.1"/>

<g font-size="7" text-anchor="end" fill="#222">
<text x="712.5" y="482.5">−19</text><text x="712.5" y="514">−20</text><text x="712.5" y="545.6">−21</text><text x="712.5" y="577.1">−22</text><text x="712.5" y="608.7">−23</text><text x="712.5" y="640.2">−24</text>
<text x="950.1" y="482.5">−19</text><text x="950.1" y="514">−20</text><text x="950.1" y="545.6">−21</text><text x="950.1" y="577.1">−22</text><text x="950.1" y="608.7">−23</text><text x="950.1" y="640.2">−24</text>
<text x="712.5" y="720.1">−19</text><text x="712.5" y="751.6">−20</text><text x="712.5" y="783.2">−21</text><text x="712.5" y="814.7">−22</text><text x="712.5" y="846.3">−23</text><text x="712.5" y="877.8">−24</text>
<text x="950.1" y="720.1">−19</text><text x="950.1" y="751.6">−20</text><text x="950.1" y="783.2">−21</text><text x="950.1" y="814.7">−22</text><text x="950.1" y="846.3">−23</text><text x="950.1" y="877.8">−24</text>
<text x="712.5" y="957.7">−19</text><text x="712.5" y="989.2">−20</text><text x="712.5" y="1020.8">−21</text><text x="712.5" y="1052.3">−22</text><text x="712.5" y="1083.9">−23</text><text x="712.5" y="1115.4">−24</text>
<text x="950.1" y="957.7">−19</text><text x="950.1" y="989.2">−20</text><text x="950.1" y="1020.8">−21</text><text x="950.1" y="1052.3">−22</text><text x="950.1" y="1083.9">−23</text><text x="950.1" y="1115.4">−24</text>
<text x="712.5" y="1195.3">−19</text><text x="712.5" y="1226.8">−20</text><text x="712.5" y="1258.4">−21</text><text x="712.5" y="1289.9">−22</text><text x="712.5" y="1321.5">−23</text><text x="712.5" y="1353">−24</text>
<text x="950.1" y="1195.3">−19</text><text x="950.1" y="1226.8">−20</text><text x="950.1" y="1258.4">−21</text><text x="950.1" y="1289.9">−22</text><text x="950.1" y="1321.5">−23</text><text x="950.1" y="1353">−24</text>
</g>
<g font-size="7" text-anchor="middle" fill="#222">
<text x="724.7" y="664.8">70</text><text x="753.9" y="664.8">71</text><text x="783.1" y="664.8">72</text><text x="812.3" y="664.8">73</text><text x="841.5" y="664.8">74</text><text x="870.7" y="664.8">75</text><text x="899.9" y="664.8">76</text>
<text x="962.3" y="664.8">70</text><text x="991.5" y="664.8">71</text><text x="1020.7" y="664.8">72</text><text x="1049.9" y="664.8">73</text><text x="1079.1" y="664.8">74</text><text x="1108.3" y="664.8">75</text><text x="1137.5" y="664.8">76</text>
<text x="724.7" y="902.4">70</text><text x="753.9" y="902.4">71</text><text x="783.1" y="902.4">72</text><text x="812.3" y="902.4">73</text><text x="841.5" y="902.4">74</text><text x="870.7" y="902.4">75</text><text x="899.9" y="902.4">76</text>
<text x="962.3" y="902.4">70</text><text x="991.5" y="902.4">71</text><text x="1020.7" y="902.4">72</text><text x="1049.9" y="902.4">73</text><text x="1079.1" y="902.4">74</text><text x="1108.3" y="902.4">75</text><text x="1137.5" y="902.4">76</text>
<text x="724.7" y="1140">70</text><text x="753.9" y="1140">71</text><text x="783.1" y="1140">72</text><text x="812.3" y="1140">73</text><text x="841.5" y="1140">74</text><text x="870.7" y="1140">75</text><text x="899.9" y="1140">76</text>
<text x="962.3" y="1140">70</text><text x="991.5" y="1140">71</text><text x="1020.7" y="1140">72</text><text x="1049.9" y="1140">73</text><text x="1079.1" y="1140">74</text><text x="1108.3" y="1140">75</text><text x="1137.5" y="1140">76</text>
<text x="724.7" y="1377.6">70</text><text x="753.9" y="1377.6">71</text><text x="783.1" y="1377.6">72</text><text x="812.3" y="1377.6">73</text><text x="841.5" y="1377.6">74</text><text x="870.7" y="1377.6">75</text><text x="899.9" y="1377.6">76</text>
<text x="962.3" y="1377.6">70</text><text x="991.5" y="1377.6">71</text><text x="1020.7" y="1377.6">72</text><text x="1049.9" y="1377.6">73</text><text x="1079.1" y="1377.6">74</text><text x="1108.3" y="1377.6">75</text><text x="1137.5" y="1377.6">76</text>
</g>

<!-- IR colorbars -->
<text x="817.7" y="1400.5" font-size="8" text-anchor="middle">Brightness Temperature [K]</text>
<rect x="717.7" y="1404" width="200" height="12" fill="url(#gIR)" stroke="#444" stroke-width="0.8"/>
<text x="1055.3" y="1400.5" font-size="8" text-anchor="middle">SHAP Values</text>
<rect x="955.3" y="1404" width="200" height="12" fill="url(#gSeis)" stroke="#444" stroke-width="0.8"/>
<path d="M717.7 1416v2.5M748.4 1416v2.5M779.1 1416v2.5M809.8 1416v2.5M840.5 1416v2.5M871.2 1416v2.5M901.9 1416v2.5M970.9 1416v2.5M1013.1 1416v2.5M1055.3 1416v2.5M1097.5 1416v2.5M1139.7 1416v2.5" stroke="#333" stroke-width="0.8"/>
<g font-size="7" text-anchor="middle" fill="#222">
<text x="717.7" y="1427.5">180</text><text x="748.4" y="1427.5">200</text><text x="779.1" y="1427.5">220</text><text x="809.8" y="1427.5">240</text><text x="840.5" y="1427.5">260</text><text x="871.2" y="1427.5">280</text><text x="901.9" y="1427.5">300</text>
<text x="970.9" y="1427.5">−0.2</text><text x="1013.1" y="1427.5">−0.1</text><text x="1055.3" y="1427.5">0.0</text><text x="1097.5" y="1427.5">0.1</text><text x="1139.7" y="1427.5">0.2</text>
</g>

<!-- ===== MW COMPARISON ===== -->
<text x="1405" y="431" font-size="11" text-anchor="middle" textLength="384" lengthAdjust="spacingAndGlyphs">Comparison of MW SHAP Values for 2023_13S at 20230213 2250UTC</text>
<text x="1305" y="449.8" font-size="9.2" text-anchor="middle">37 GHz MW Data</text>
<text x="1542.7" y="449.8" font-size="9.2" text-anchor="middle">SHAP Value=2.51 kts</text>
<text x="1305" y="721.3" font-size="9.2" text-anchor="middle">89 GHz MW Data</text>
<text x="1542.7" y="721.3" font-size="9.2" text-anchor="middle">SHAP Value=-2.81 kts</text>

<svg x="1205" y="453.4" width="200" height="200" viewBox="0 0 200 200"><use href="#mw37" xlink:href="#mw37"/></svg>
<svg x="1442.7" y="453.4" width="200" height="200" viewBox="0 0 200 200">
<rect width="200" height="200" filter="url(#nwE)"/>
</svg>
<svg x="1205" y="725" width="200" height="200" viewBox="0 0 200 200"><use href="#mw89" xlink:href="#mw89"/></svg>
<svg x="1442.7" y="725" width="200" height="200" viewBox="0 0 200 200">
<rect width="200" height="200" filter="url(#nwF)"/>
<rect width="200" height="200" filter="url(#nsF)" mask="url(#m89)"/>
</svg>
<g fill="none" stroke="#444" stroke-width="1">
<rect x="1205" y="453.4" width="200" height="200"/><rect x="1442.7" y="453.4" width="200" height="200"/>
<rect x="1205" y="725" width="200" height="200"/><rect x="1442.7" y="725" width="200" height="200"/>
</g>
<use href="#mwt" xlink:href="#mwt" x="1205" y="453.4"/><use href="#mwt" xlink:href="#mwt" x="1442.7" y="453.4"/>
<use href="#mwt" xlink:href="#mwt" x="1205" y="725"/><use href="#mwt" xlink:href="#mwt" x="1442.7" y="725"/>
<g font-size="7" text-anchor="end" fill="#222">
<text x="1200" y="472.1">−20.0</text><text x="1200" y="503.6">−20.5</text><text x="1200" y="535.1">−21.0</text><text x="1200" y="566.6">−21.5</text><text x="1200" y="598.1">−22.0</text><text x="1200" y="629.6">−22.5</text>
<text x="1437.7" y="472.1">−20.0</text><text x="1437.7" y="503.6">−20.5</text><text x="1437.7" y="535.1">−21.0</text><text x="1437.7" y="566.6">−21.5</text><text x="1437.7" y="598.1">−22.0</text><text x="1437.7" y="629.6">−22.5</text>
<text x="1200" y="743.7">−20.0</text><text x="1200" y="775.2">−20.5</text><text x="1200" y="806.7">−21.0</text><text x="1200" y="838.2">−21.5</text><text x="1200" y="869.7">−22.0</text><text x="1200" y="901.2">−22.5</text>
<text x="1437.7" y="743.7">−20.0</text><text x="1437.7" y="775.2">−20.5</text><text x="1437.7" y="806.7">−21.0</text><text x="1437.7" y="838.2">−21.5</text><text x="1437.7" y="869.7">−22.0</text><text x="1437.7" y="901.2">−22.5</text>
</g>
<g font-size="7" text-anchor="middle" fill="#222">
<text x="1207.7" y="664.9">71.5</text><text x="1237.2" y="664.9">72.0</text><text x="1266.7" y="664.9">72.5</text><text x="1296.2" y="664.9">73.0</text><text x="1325.7" y="664.9">73.5</text><text x="1355.2" y="664.9">74.0</text><text x="1384.7" y="664.9">74.5</text>
<text x="1445.4" y="664.9">71.5</text><text x="1474.9" y="664.9">72.0</text><text x="1504.4" y="664.9">72.5</text><text x="1533.9" y="664.9">73.0</text><text x="1563.4" y="664.9">73.5</text><text x="1592.9" y="664.9">74.0</text><text x="1622.4" y="664.9">74.5</text>
<text x="1207.7" y="936.5">71.5</text><text x="1237.2" y="936.5">72.0</text><text x="1266.7" y="936.5">72.5</text><text x="1296.2" y="936.5">73.0</text><text x="1325.7" y="936.5">73.5</text><text x="1355.2" y="936.5">74.0</text><text x="1384.7" y="936.5">74.5</text>
<text x="1445.4" y="936.5">71.5</text><text x="1474.9" y="936.5">72.0</text><text x="1504.4" y="936.5">72.5</text><text x="1533.9" y="936.5">73.0</text><text x="1563.4" y="936.5">73.5</text><text x="1592.9" y="936.5">74.0</text><text x="1622.4" y="936.5">74.5</text>
</g>

<!-- MW colorbars -->
<text x="1305" y="680.5" font-size="8" text-anchor="middle">Brightness Temperature [K]</text>
<rect x="1205" y="683.6" width="200" height="12.1" fill="url(#gJet)" stroke="#444" stroke-width="0.8"/>
<path d="M1205 695.7v2.5M1238.4 695.7v2.5M1271.9 695.7v2.5M1305.3 695.7v2.5M1338.8 695.7v2.5M1372.2 695.7v2.5M1405.7 695.7v2.5" stroke="#333" stroke-width="0.8"/>
<g font-size="7" text-anchor="middle" fill="#222">
<text x="1205" y="706.5">160</text><text x="1238.4" y="706.5">180</text><text x="1271.9" y="706.5">200</text><text x="1305.3" y="706.5">220</text><text x="1338.8" y="706.5">240</text><text x="1372.2" y="706.5">260</text><text x="1405.7" y="706.5">280</text>
</g>
<text x="1305" y="951.5" font-size="8" text-anchor="middle">Brightness Temperature [K]</text>
<rect x="1205" y="954.5" width="200" height="12.5" fill="url(#gJetR)" stroke="#444" stroke-width="0.8"/>
<text x="1542.7" y="951.5" font-size="8" text-anchor="middle">SHAP Values</text>
<rect x="1442.7" y="954.5" width="200" height="12.5" fill="url(#gSeis)" stroke="#444" stroke-width="0.8"/>
<path d="M1205 967v2.5M1238.4 967v2.5M1271.9 967v2.5M1305.3 967v2.5M1338.8 967v2.5M1372.2 967v2.5M1405.7 967v2.5M1452.7 967v2.5M1482.7 967v2.5M1512.7 967v2.5M1542.7 967v2.5M1572.7 967v2.5M1602.7 967v2.5M1632.7 967v2.5" stroke="#333" stroke-width="0.8"/>
<g font-size="7" text-anchor="middle" fill="#222">
<text x="1205" y="978">160</text><text x="1238.4" y="978">180</text><text x="1271.9" y="978">200</text><text x="1305.3" y="978">220</text><text x="1338.8" y="978">240</text><text x="1372.2" y="978">260</text><text x="1405.7" y="978">280</text>
<text x="1452.7" y="978">−0.3</text><text x="1482.7" y="978">−0.2</text><text x="1512.7" y="978">−0.1</text><text x="1542.7" y="978">0.0</text><text x="1572.7" y="978">0.1</text><text x="1602.7" y="978">0.2</text><text x="1632.7" y="978">0.3</text>
</g>
</svg>
</body></html>
